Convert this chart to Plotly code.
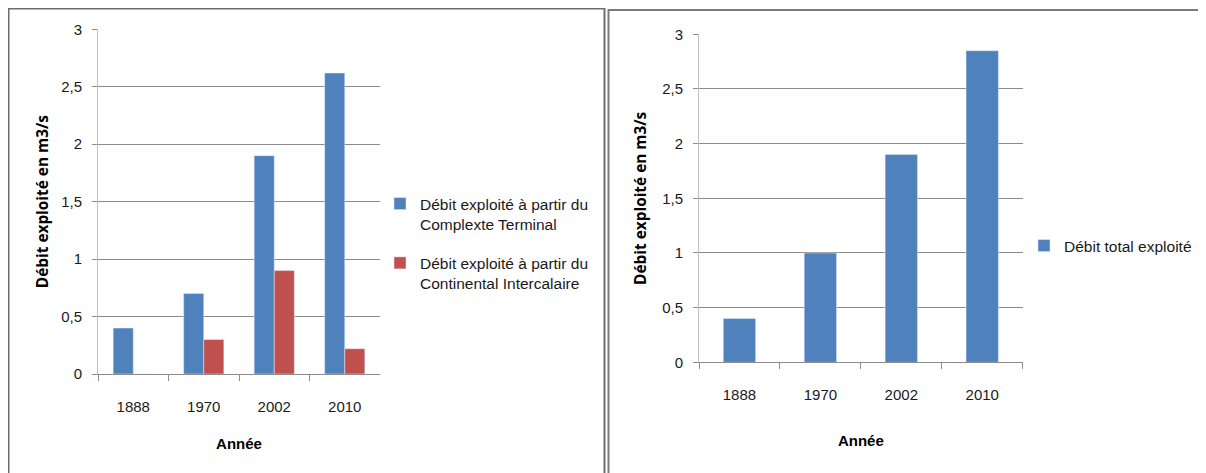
import plotly.graph_objects as go

years = ["1888", "1970", "2002", "2010"]
ct_values = [0.4, 0.7, 1.9, 2.62]
ci_values = [0.0, 0.3, 0.9, 0.22]
total_values = [0.4, 1.0, 1.9, 2.85]

ct_name = "Débit exploité à partir du<br>Complexte Terminal"
ci_name = "Débit exploité à partir du<br>Continental Intercalaire"
total_name = "Débit total exploité"
y_title = "Débit exploité en m3/s"
x_title = "Année"
y_ticks = [0, 0.5, 1, 1.5, 2, 2.5, 3]
y_ticktext = ["0", "0,5", "1", "1,5", "2", "2,5", "3"]

BLUE = "#4F81BD"
RED = "#C0504D"
SANS = "Liberation Sans, Arial, sans-serif"
TICK_FONT = dict(family=SANS, size=15, color="#1a1a1a")
TITLE_FONT = dict(family="Open Sans, sans-serif", size=15.4, color="#000000", weight="bold")
XTITLE_FONT = dict(family=SANS, size=15, color="#000000", weight="bold")
LEG_FONT = dict(family=SANS, size=15.5, color="#1a1a1a")

fig = go.Figure()
fig.add_trace(go.Bar(x=years, y=ct_values, name=ct_name, marker_color=BLUE,
                     xaxis="x", yaxis="y", legend="legend", legendgroup="ct"))
fig.add_trace(go.Bar(x=years, y=ci_values, name=ci_name, marker_color=RED,
                     xaxis="x", yaxis="y", legend="legend", legendgroup="ci"))
fig.add_trace(go.Bar(x=years, y=total_values, name=total_name, marker_color=BLUE,
                     xaxis="x2", yaxis="y2", legend="legend2", width=0.4))

# the page body has an 8px margin; the figure fills the rest of the window
OFF = 8
W, H = 1206 - OFF, 473 - OFF


def px_x(v):
    return (v - OFF) / W


def px_y(v):
    return (H - (v - OFF)) / H


common_x = dict(type="category", showgrid=False, showline=True, linecolor="#8c8c8c", linewidth=1,
                ticks="outside", tickson="boundaries", ticklen=6, tickcolor="#8c8c8c",
                tickfont=TICK_FONT, fixedrange=True, zeroline=False, automargin=False,
                ticklabelstandoff=19)
common_y = dict(range=[0, 3], tickvals=y_ticks, ticktext=y_ticktext, showgrid=True,
                gridcolor="#8c8c8c", gridwidth=1, showline=True, linecolor="#c0c0c0", linewidth=1,
                ticks="outside", ticklen=5, tickcolor="#8c8c8c", tickfont=TICK_FONT,
                zeroline=False, fixedrange=True, automargin=False, ticklabelstandoff=7)

fig.update_layout(
    width=W, height=H,
    margin=dict(l=0, r=0, t=0, b=0, autoexpand=False),
    paper_bgcolor="white", plot_bgcolor="white",
    barmode="group", bargap=0.43, bargroupgap=0,
    showlegend=True,
    xaxis=dict(common_x, domain=[px_x(98), px_x(380)], anchor="y",
               title=dict(text=x_title, font=XTITLE_FONT, standoff=24)),
    yaxis=dict(common_y, domain=[px_y(374), px_y(29.3)], anchor="x",
               title=dict(text=y_title, font=TITLE_FONT, standoff=8)),
    xaxis2=dict(common_x, domain=[px_x(699), px_x(1022.7)], anchor="y2",
                title=dict(text=x_title, font=XTITLE_FONT, standoff=33)),
    yaxis2=dict(common_y, domain=[px_y(362.3), px_y(34.3)], anchor="x2",
                title=dict(text=y_title, font=TITLE_FONT, standoff=11)),
    legend=dict(x=px_x(380), y=px_y(187), xanchor="left", yanchor="top",
                font=LEG_FONT, bgcolor="rgba(0,0,0,0)", valign="top", itemwidth=30,
                tracegroupgap=16, traceorder="grouped"),
    legend2=dict(x=px_x(1024), y=px_y(229), xanchor="left", yanchor="top",
                 font=LEG_FONT, bgcolor="rgba(0,0,0,0)", valign="top", itemwidth=30),
    shapes=[
        dict(type="rect", xref="paper", yref="paper", x0=px_x(8.5), x1=px_x(604.5), y0=-0.05, y1=px_y(8.5),
             line=dict(color="#6e6e6e", width=2), fillcolor="rgba(0,0,0,0)", layer="below"),
        dict(type="rect", xref="paper", yref="paper", x0=px_x(608.5), x1=1.05, y0=-0.05, y1=px_y(10),
             line=dict(color="#7a7a7a", width=2), fillcolor="rgba(0,0,0,0)", layer="below"),
    ],
)

fig.write_html("out.html")
